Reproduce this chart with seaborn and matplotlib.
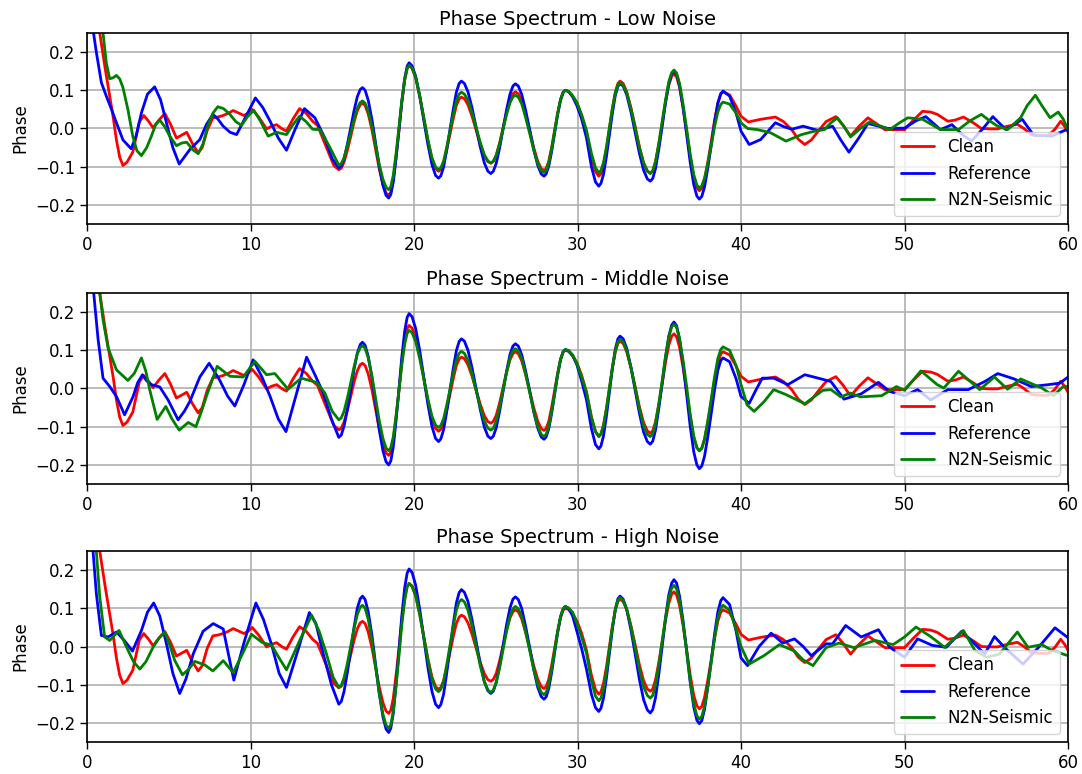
import numpy as np
import matplotlib
matplotlib.use('Agg')
import matplotlib.pyplot as plt
import seaborn as sns

sns.set_style('ticks')
plt.rcParams['font.family'] = ['DejaVu Sans']
plt.rcParams['text.color'] = 'black'
plt.rcParams['axes.labelcolor'] = 'black'
plt.rcParams['xtick.color'] = 'black'
plt.rcParams['ytick.color'] = 'black'

# ortak salinim bolgesi (15-39 Hz): tum egriler ayni x noktalarinda okundu
OSC_X = [15.4, 15.55, 15.72, 15.92, 16.13, 16.33, 16.53, 16.71,
         16.85, 17.01, 17.2, 17.43, 17.65, 17.87, 18.1, 18.29,
         18.45, 18.58, 18.73, 18.9, 19.08, 19.25, 19.43, 19.58,
         19.7, 19.88, 20.1, 20.35, 20.6, 20.85, 21.1, 21.32,
         21.5, 21.64, 21.81, 22.0, 22.2, 22.4, 22.59, 22.76,
         22.9, 23.08, 23.3, 23.55, 23.8, 24.05, 24.3, 24.52,
         24.7, 24.85, 25.03, 25.24, 25.45, 25.66, 25.87, 26.05,
         26.2, 26.38, 26.59, 26.83, 27.08, 27.32, 27.57, 27.78,
         27.95, 28.08, 28.24, 28.42, 28.6, 28.78, 28.96, 29.12,
         29.25, 29.45, 29.7, 29.96, 30.25, 30.55, 30.85, 31.1,
         31.3, 31.43, 31.59, 31.77, 31.95, 32.13, 32.31, 32.47,
         32.6, 32.79, 33.01, 33.27, 33.53, 33.78, 34.04, 34.27,
         34.45, 34.6, 34.77, 34.97, 35.18, 35.38, 35.58, 35.76,
         35.9, 36.06, 36.24, 36.46, 36.68, 36.89, 37.11, 37.3,
         37.45, 37.6, 37.77, 37.97, 38.18, 38.38, 38.58, 38.76,
         38.9]

# Clean (uc panelde de ayni)
CLEAN_HEAD_X = [0, 0.4, 0.78, 1.1, 1.39, 1.6, 1.8, 2.0, 2.2, 2.45, 2.8, 3.2, 3.47, 3.75, 4.04,
                4.4, 4.76, 5.1, 5.47, 5.8, 6.1, 6.45, 6.8, 7.05, 7.35, 7.7, 8.0, 8.33, 8.65, 8.94,
                9.3, 9.6, 9.85, 10.1, 10.5, 10.98, 11.3, 11.6, 11.9, 12.2, 12.6, 13.0, 13.4, 13.8,
                14.1, 14.6, 15.1]
CLEAN_HEAD_Y = [0.45, 0.36, 0.25, 0.16, 0.085, 0.03, -0.03, -0.075, -0.097, -0.088, -0.062, 0.017,
                0.034, 0.02, 0.002, 0.022, 0.039, 0.012, -0.025, -0.017, -0.01, -0.04, -0.064, -0.05,
                -0.005, 0.028, 0.03, 0.034, 0.04, 0.047, 0.04, 0.034, 0.04, 0.05, 0.03, -0.001, 0.006,
                0.01, 0.0, -0.007, 0.025, 0.052, 0.04, 0.019, 0.008, -0.045, -0.097]
CLEAN_OSC = [-0.108, -0.104, -0.088, -0.058, -0.021, 0.016, 0.046, 0.062,
             0.066, 0.06, 0.038, -0.004, -0.055, -0.105, -0.147, -0.169,
             -0.175, -0.167, -0.136, -0.076, -0.005, 0.066, 0.126, 0.157,
             0.165, 0.158, 0.133, 0.085, 0.027, -0.032, -0.08, -0.105,
             -0.112, -0.107, -0.09, -0.056, -0.015, 0.026, 0.06, 0.077,
             0.082, 0.078, 0.062, 0.032, -0.005, -0.041, -0.071, -0.087,
             -0.091, -0.086, -0.07, -0.037, 0.003, 0.042, 0.075, 0.091,
             0.096, 0.091, 0.072, 0.036, -0.007, -0.05, -0.086, -0.105,
             -0.11, -0.105, -0.086, -0.049, -0.005, 0.039, 0.076, 0.095,
             0.1, 0.097, 0.085, 0.067, 0.035, -0.01, -0.075, -0.113,
             -0.125, -0.119, -0.096, -0.053, 0.0, 0.052, 0.095, 0.118,
             0.124, 0.118, 0.096, 0.054, 0.004, -0.047, -0.089, -0.111,
             -0.117, -0.111, -0.087, -0.042, 0.013, 0.068, 0.113, 0.137,
             0.143, 0.135, 0.108, 0.054, -0.01, -0.074, -0.128, -0.155,
             -0.163, -0.157, -0.133, -0.088, -0.034, 0.021, 0.066, 0.09,
             0.096]
CLEAN_TAIL_X = [39.3, 39.7, 40.0, 40.45, 41.2, 42.1, 42.6, 43.1, 43.5, 43.9, 44.3, 44.7, 45.2, 45.8,
                46.25, 46.7, 47.2, 47.76, 48.3, 48.8, 49.4, 50.0, 50.5, 51.1, 51.6, 52.0, 52.65, 53.1,
                53.6, 54.2, 54.7, 55.2, 55.7, 56.3, 56.9, 57.3, 57.75, 58.3, 58.8, 59.2, 59.55, 59.8, 60.0]
CLEAN_TAIL_Y = [0.088, 0.058, 0.032, 0.017, 0.024, 0.03, 0.018, -0.003, -0.028, -0.042, -0.03, -0.008,
                0.018, 0.031, 0.008, -0.02, 0.005, 0.028, 0.012, -0.003, -0.003, -0.003, 0.02, 0.045,
                0.043, 0.037, 0.019, 0.022, 0.03, 0.015, 0.0, -0.001, -0.001, 0.006, 0.011, 0.0, -0.016,
                -0.018, -0.018, -0.002, 0.019, 0.005, -0.01]

# Low noise
REF_LOW_HEAD_X = [0, 0.4, 0.57, 0.88, 1.18, 1.5, 1.8, 2.2, 2.7, 3.0, 3.33, 3.7, 4.14, 4.5, 4.86, 5.25,
                  5.64, 5.95, 6.29, 6.9, 7.3, 7.7, 8.0, 8.33, 8.75, 9.15, 9.7, 10.3, 10.75, 11.2, 11.7,
                  12.2, 12.75, 13.3, 13.94, 14.55, 15.0]
REF_LOW_HEAD_Y = [0.45, 0.25, 0.2, 0.12, 0.085, 0.05, 0.015, -0.03, -0.053, -0.02, 0.041, 0.09, 0.109,
                  0.075, 0.015, -0.05, -0.093, -0.075, -0.055, -0.029, 0.01, 0.037, 0.025, 0.006, -0.01,
                  -0.016, 0.03, 0.08, 0.055, 0.019, -0.025, -0.057, 0.0, 0.052, 0.028, -0.025, -0.08]
REF_LOW_OSC = [-0.103, -0.098, -0.079, -0.042, 0.002, 0.046, 0.083, 0.102,
               0.107, 0.1, 0.074, 0.023, -0.038, -0.098, -0.149, -0.175,
               -0.182, -0.173, -0.141, -0.079, -0.005, 0.069, 0.131, 0.163,
               0.172, 0.164, 0.137, 0.084, 0.021, -0.042, -0.095, -0.123,
               -0.13, -0.124, -0.101, -0.056, -0.003, 0.05, 0.095, 0.118,
               0.124, 0.118, 0.096, 0.054, 0.003, -0.048, -0.09, -0.112,
               -0.118, -0.112, -0.091, -0.05, 0.0, 0.049, 0.09, 0.111,
               0.117, 0.111, 0.089, 0.047, -0.004, -0.055, -0.097, -0.119,
               -0.125, -0.119, -0.099, -0.06, -0.013, 0.035, 0.074, 0.094,
               0.1, 0.097, 0.083, 0.06, 0.025, -0.025, -0.1, -0.14,
               -0.151, -0.144, -0.12, -0.073, -0.017, 0.039, 0.086, 0.11,
               0.117, 0.111, 0.088, 0.043, -0.011, -0.064, -0.109, -0.132,
               -0.138, -0.131, -0.105, -0.055, 0.006, 0.067, 0.117, 0.143,
               0.15, 0.142, 0.112, 0.053, -0.018, -0.088, -0.147, -0.177,
               -0.185, -0.178, -0.153, -0.103, -0.044, 0.016, 0.066, 0.091,
               0.098]
REF_LOW_TAIL_X = [39.3, 39.7, 40.0, 40.5, 41.2, 42.1, 42.6, 43.1, 43.8, 44.7, 45.6, 46.1, 46.6, 47.2,
                  47.76, 49.0, 50.0, 50.7, 51.3, 52.2, 52.9, 53.5, 54.1, 54.8, 55.4, 56.2, 57.2, 57.9,
                  59.0, 59.9, 60.0]
REF_LOW_TAIL_Y = [0.085, 0.04, -0.007, -0.042, -0.029, 0.015, 0.005, -0.002, 0.006, -0.005, 0.006, -0.03,
                  -0.062, -0.025, 0.013, 0.0, 0.001, 0.02, 0.031, -0.003, 0.01, -0.015, -0.033, 0.0,
                  0.031, -0.003, 0.024, -0.018, -0.02, -0.003, 0.0]
N2N_LOW_HEAD_X = [0, 0.98, 1.18, 1.39, 1.6, 1.8, 2.0, 2.2, 2.5, 2.8, 3.05, 3.33, 3.65, 3.94, 4.2, 4.45,
                  4.75, 5.06, 5.47, 5.8, 6.1, 6.45, 6.8, 7.1, 7.4, 7.7, 8.0, 8.35, 8.74, 9.1, 9.45, 9.8,
                  10.2, 10.6, 11.08, 11.6, 12.2, 12.6, 13.0, 13.4, 13.8, 14.25, 14.8]
N2N_LOW_HEAD_Y = [0.55, 0.25, 0.172, 0.13, 0.133, 0.139, 0.13, 0.107, 0.05, -0.02, -0.058, -0.071, -0.05,
                  -0.02, 0.01, 0.022, 0.005, -0.02, -0.045, -0.038, -0.036, -0.055, -0.066, -0.04, 0.008,
                  0.04, 0.057, 0.052, 0.037, 0.018, 0.008, 0.03, 0.048, 0.02, -0.02, -0.01, -0.016, 0.01,
                  0.032, 0.018, -0.002, -0.003, -0.045]
N2N_LOW_OSC = [-0.096, -0.092, -0.077, -0.047, -0.012, 0.023, 0.053, 0.068,
               0.072, 0.066, 0.045, 0.005, -0.044, -0.093, -0.133, -0.154,
               -0.16, -0.152, -0.123, -0.066, 0.003, 0.071, 0.128, 0.157,
               0.165, 0.158, 0.134, 0.086, 0.029, -0.029, -0.077, -0.101,
               -0.108, -0.103, -0.085, -0.049, -0.007, 0.036, 0.072, 0.09,
               0.095, 0.09, 0.074, 0.041, 0.003, -0.036, -0.069, -0.085,
               -0.09, -0.086, -0.07, -0.039, -0.002, 0.036, 0.067, 0.083,
               0.087, 0.082, 0.064, 0.028, -0.014, -0.056, -0.092, -0.11,
               -0.115, -0.11, -0.09, -0.053, -0.008, 0.038, 0.075, 0.095,
               0.1, 0.097, 0.086, 0.068, 0.036, -0.005, -0.065, -0.103,
               -0.116, -0.11, -0.089, -0.048, 0.002, 0.052, 0.093, 0.114,
               0.12, 0.114, 0.093, 0.051, 0.001, -0.049, -0.091, -0.112,
               -0.118, -0.111, -0.087, -0.039, 0.018, 0.074, 0.122, 0.146,
               0.153, 0.145, 0.118, 0.063, -0.002, -0.066, -0.121, -0.148,
               -0.156, -0.15, -0.13, -0.091, -0.044, 0.004, 0.043, 0.063,
               0.069]
N2N_LOW_TAIL_X = [39.3, 39.7, 40.0, 40.4, 41.0, 41.8, 42.75, 43.7, 44.5, 45.1, 45.5, 45.9, 46.3, 46.7,
                  47.3, 47.86, 49.1, 49.7, 50.2, 51.1, 52.2, 53.3, 54.0, 54.7, 55.2, 55.7, 56.3, 57.1,
                  57.5, 58.0, 58.4, 58.9, 59.4, 59.7, 60.0]
N2N_LOW_TAIL_Y = [0.064, 0.04, 0.015, 0.0, -0.003, -0.011, -0.033, -0.016, -0.007, -0.003, 0.015, 0.028,
                  0.005, -0.022, 0.0, 0.017, -0.003, 0.015, 0.028, 0.024, -0.003, -0.003, 0.02, 0.037,
                  0.02, 0.006, -0.003, 0.028, 0.06, 0.087, 0.06, 0.028, 0.043, 0.025, -0.003]

# Middle noise
REF_MID_HEAD_X = [0, 0.41, 0.68, 0.98, 1.39, 1.8, 2.3, 2.82, 3.1, 3.39, 3.65, 3.94, 4.45, 4.96, 5.57,
                  5.95, 6.29, 6.9, 7.47, 8.1, 8.6, 9.04, 9.6, 10.16, 10.7, 11.2, 11.7, 12.17, 12.8, 13.43,
                  13.95, 14.45, 14.95]
REF_MID_HEAD_Y = [0.5, 0.25, 0.128, 0.027, 0.005, -0.021, -0.069, -0.021, 0.015, 0.036, 0.02, 0.01, 0.004,
                  -0.03, -0.082, -0.06, -0.034, 0.03, 0.066, 0.023, -0.02, -0.046, 0.01, 0.075, 0.03,
                  -0.021, -0.08, -0.113, -0.015, 0.082, 0.035, -0.012, -0.08]
REF_MID_OSC = [-0.128, -0.122, -0.099, -0.056, -0.004, 0.049, 0.092, 0.115,
               0.121, 0.113, 0.084, 0.028, -0.04, -0.107, -0.163, -0.192,
               -0.2, -0.19, -0.154, -0.085, -0.002, 0.081, 0.15, 0.186,
               0.196, 0.188, 0.157, 0.099, 0.029, -0.042, -0.1, -0.131,
               -0.139, -0.132, -0.108, -0.061, -0.005, 0.052, 0.099, 0.123,
               0.13, 0.124, 0.1, 0.054, 0.0, -0.055, -0.101, -0.125,
               -0.131, -0.125, -0.103, -0.059, -0.007, 0.045, 0.089, 0.111,
               0.117, 0.111, 0.088, 0.045, -0.008, -0.061, -0.104, -0.127,
               -0.133, -0.127, -0.106, -0.065, -0.016, 0.034, 0.075, 0.096,
               0.102, 0.099, 0.087, 0.062, 0.02, -0.03, -0.105, -0.147,
               -0.158, -0.151, -0.124, -0.072, -0.011, 0.052, 0.103, 0.13,
               0.137, 0.13, 0.105, 0.055, -0.005, -0.064, -0.114, -0.139,
               -0.146, -0.138, -0.109, -0.053, 0.014, 0.081, 0.137, 0.166,
               0.174, 0.164, 0.13, 0.063, -0.018, -0.099, -0.166, -0.2,
               -0.21, -0.203, -0.177, -0.126, -0.065, -0.004, 0.047, 0.073,
               0.08]
REF_MID_TAIL_X = [39.3, 39.7, 40.0, 40.5, 40.9, 41.3, 42.0, 42.86, 43.9, 44.9, 45.5, 45.9, 46.3, 47.35,
                  48.4, 49.1, 50.0, 50.8, 51.6, 52.65, 53.9, 54.9, 55.7, 56.7, 57.75, 58.8, 59.5, 60.0]
REF_MID_TAIL_Y = [0.07, 0.025, -0.021, -0.039, -0.005, 0.027, 0.027, 0.01, 0.036, 0.025, 0.018, -0.005,
                  -0.028, -0.014, 0.016, -0.008, -0.019, -0.003, -0.03, -0.003, -0.003, 0.018, 0.039,
                  0.025, 0.005, 0.01, 0.014, 0.03]
N2N_MID_HEAD_X = [0, 0.78, 0.98, 1.29, 1.8, 2.5, 2.9, 3.33, 3.6, 3.84, 4.29, 4.82, 5.2, 5.64, 6.19, 6.66,
                  7.0, 7.3, 7.96, 8.74, 9.55, 10.27, 10.98, 11.49, 12.3, 13.1, 14.04, 14.55, 15.0]
N2N_MID_HEAD_Y = [0.6, 0.25, 0.18, 0.106, 0.049, 0.021, 0.04, 0.08, 0.045, -0.004, -0.081, -0.047, -0.08,
                  -0.109, -0.089, -0.1, -0.06, -0.021, 0.058, 0.032, 0.03, 0.071, 0.036, 0.039, -0.002,
                  0.027, 0.016, -0.012, -0.06]
N2N_MID_OSC = [-0.082, -0.077, -0.06, -0.026, 0.015, 0.056, 0.09, 0.107,
               0.112, 0.105, 0.08, 0.032, -0.026, -0.083, -0.131, -0.156,
               -0.163, -0.155, -0.127, -0.072, -0.006, 0.061, 0.116, 0.144,
               0.152, 0.146, 0.123, 0.078, 0.025, -0.028, -0.073, -0.096,
               -0.102, -0.097, -0.079, -0.044, -0.003, 0.039, 0.074, 0.092,
               0.097, 0.092, 0.073, 0.037, -0.006, -0.049, -0.085, -0.104,
               -0.109, -0.104, -0.085, -0.047, -0.003, 0.042, 0.08, 0.099,
               0.104, 0.098, 0.078, 0.037, -0.011, -0.059, -0.1, -0.12,
               -0.126, -0.12, -0.1, -0.06, -0.012, 0.036, 0.076, 0.096,
               0.102, 0.099, 0.088, 0.066, 0.03, -0.01, -0.075, -0.113,
               -0.126, -0.12, -0.097, -0.052, 0.001, 0.054, 0.099, 0.122,
               0.128, 0.122, 0.099, 0.054, 0.001, -0.052, -0.097, -0.12,
               -0.126, -0.119, -0.092, -0.041, 0.021, 0.083, 0.134, 0.161,
               0.168, 0.16, 0.13, 0.072, 0.003, -0.067, -0.125, -0.155,
               -0.163, -0.156, -0.132, -0.084, -0.027, 0.03, 0.078, 0.102,
               0.109]
N2N_MID_TAIL_X = [39.3, 39.7, 40.0, 40.37, 40.8, 41.4, 42.0, 42.75, 43.9, 45.0, 45.5, 46.1, 46.7, 47.3,
                  48.6, 49.5, 50.0, 51.0, 52.0, 52.4, 53.3, 54.6, 55.5, 56.3, 57.1, 58.4, 59.1, 59.7, 60.0]
N2N_MID_TAIL_Y = [0.1, 0.06, 0.01, -0.043, -0.06, -0.035, -0.003, -0.016, -0.04, -0.005, -0.003, -0.022,
                  -0.012, -0.022, -0.019, 0.005, -0.005, 0.046, 0.01, 0.001, 0.045, -0.003, 0.03, -0.002,
                  0.025, 0.001, -0.019, 0.005, 0.005]

# High noise
REF_HIGH_HEAD_X = [0, 0.37, 0.57, 0.88, 1.29, 1.8, 2.3, 2.78, 3.33, 3.7, 4.08, 4.45, 4.86, 5.25, 5.67,
                   6.05, 6.5, 7.1, 7.72, 8.33, 8.65, 8.98, 9.6, 10.33, 10.8, 11.3, 11.75, 12.2, 12.9,
                   13.6, 14.0, 14.45, 14.95]
REF_HIGH_HEAD_Y = [0.5, 0.25, 0.139, 0.029, 0.025, 0.038, 0.015, -0.012, 0.042, 0.09, 0.114, 0.08, 0.007,
                   -0.07, -0.123, -0.085, -0.019, 0.04, 0.06, 0.046, -0.02, -0.088, 0.01, 0.114, 0.07,
                   0.003, -0.07, -0.107, -0.01, 0.089, 0.06, -0.019, -0.1]
REF_HIGH_OSC = [-0.151, -0.144, -0.118, -0.069, -0.01, 0.05, 0.1, 0.125,
                0.132, 0.123, 0.091, 0.029, -0.047, -0.122, -0.184, -0.216,
                -0.225, -0.214, -0.176, -0.101, -0.011, 0.079, 0.154, 0.192,
                0.203, 0.194, 0.161, 0.098, 0.022, -0.055, -0.118, -0.151,
                -0.16, -0.152, -0.125, -0.07, -0.006, 0.059, 0.114, 0.141,
                0.149, 0.142, 0.118, 0.07, 0.013, -0.044, -0.092, -0.116,
                -0.123, -0.117, -0.094, -0.05, 0.004, 0.057, 0.101, 0.124,
                0.13, 0.123, 0.099, 0.052, -0.004, -0.06, -0.107, -0.131,
                -0.138, -0.132, -0.11, -0.068, -0.017, 0.035, 0.077, 0.099,
                0.105, 0.1, 0.08, 0.04, -0.005, -0.06, -0.125, -0.16,
                -0.17, -0.162, -0.135, -0.082, -0.019, 0.044, 0.097, 0.125,
                0.132, 0.124, 0.097, 0.043, -0.021, -0.085, -0.139, -0.166,
                -0.174, -0.165, -0.134, -0.073, 0.001, 0.074, 0.135, 0.166,
                0.175, 0.166, 0.132, 0.066, -0.014, -0.093, -0.159, -0.193,
                -0.202, -0.194, -0.164, -0.106, -0.037, 0.032, 0.09, 0.12,
                0.128]
REF_HIGH_TAIL_X = [39.3, 39.7, 40.0, 40.4, 41.1, 41.84, 42.55, 43.27, 43.8, 44.3, 45.2, 45.6, 46.4, 47.35,
                   48.4, 49.1, 50.0, 50.8, 51.7, 52.55, 53.5, 54.5, 54.9, 55.5, 56.2, 57.25, 58.2, 59.2, 60.0]
REF_HIGH_TAIL_Y = [0.11, 0.04, -0.03, -0.05, 0.0, 0.035, 0.009, 0.02, 0.0, -0.024, 0.007, 0.007, 0.055,
                   0.025, 0.044, -0.002, -0.028, 0.02, 0.003, -0.002, 0.04, -0.002, -0.02, 0.026, -0.006,
                   -0.046, -0.002, 0.049, 0.023]
N2N_HIGH_HEAD_X = [0, 0.57, 0.78, 1.08, 1.39, 1.96, 2.51, 2.85, 3.23, 3.6, 4.04, 4.4, 4.76, 5.05, 5.37,
                   5.84, 6.2, 6.6, 7.2, 7.7, 8.33, 8.94, 9.5, 10.06, 10.7, 11.3, 11.75, 12.2, 13.0, 13.74,
                   14.2, 14.65, 15.05]
N2N_HIGH_HEAD_Y = [0.6, 0.25, 0.13, 0.025, 0.016, 0.042, -0.01, -0.04, -0.059, -0.04, -0.002, 0.022,
                   0.038, 0.005, -0.037, -0.074, -0.06, -0.039, -0.048, -0.064, -0.037, -0.068, -0.02,
                   0.032, 0.011, 0.003, -0.03, -0.061, 0.015, 0.082, 0.04, -0.02, -0.08]
N2N_HIGH_OSC = [-0.107, -0.102, -0.082, -0.045, 0.001, 0.046, 0.083, 0.103,
                0.108, 0.1, 0.071, 0.015, -0.053, -0.121, -0.177, -0.206,
                -0.214, -0.205, -0.17, -0.104, -0.025, 0.055, 0.121, 0.156,
                0.165, 0.158, 0.133, 0.083, 0.024, -0.036, -0.086, -0.111,
                -0.118, -0.112, -0.09, -0.048, 0.003, 0.053, 0.095, 0.117,
                0.123, 0.117, 0.095, 0.053, 0.002, -0.05, -0.092, -0.114,
                -0.12, -0.114, -0.094, -0.055, -0.008, 0.04, 0.079, 0.099,
                0.105, 0.099, 0.078, 0.038, -0.011, -0.059, -0.099, -0.12,
                -0.126, -0.12, -0.099, -0.059, -0.011, 0.038, 0.078, 0.099,
                0.105, 0.101, 0.09, 0.062, 0.025, -0.018, -0.09, -0.13,
                -0.142, -0.135, -0.111, -0.064, -0.007, 0.05, 0.097, 0.121,
                0.128, 0.121, 0.098, 0.052, -0.004, -0.059, -0.105, -0.128,
                -0.135, -0.128, -0.101, -0.049, 0.013, 0.074, 0.126, 0.153,
                0.16, 0.151, 0.12, 0.059, -0.015, -0.089, -0.15, -0.181,
                -0.19, -0.183, -0.156, -0.104, -0.041, 0.022, 0.074, 0.101,
                0.108]
N2N_HIGH_TAIL_X = [39.3, 39.7, 40.0, 40.5, 41.4, 42.35, 43.27, 43.8, 44.4, 45.2, 46.0, 46.9, 48.2, 49.3,
                   50.0, 50.7, 51.6, 52.45, 53.6, 54.3, 55.0, 55.8, 56.9, 57.55, 58.4, 59.0, 60.0]
N2N_HIGH_TAIL_Y = [0.095, 0.045, 0.0, -0.046, -0.024, 0.005, -0.012, -0.035, -0.05, -0.003, 0.009, -0.003,
                   0.016, 0.005, 0.025, 0.051, 0.026, -0.002, 0.042, -0.01, -0.028, -0.02, 0.038, -0.002,
                   0.005, -0.01, -0.024]

TITLES = ['Phase Spectrum - Low Noise', 'Phase Spectrum - Middle Noise', 'Phase Spectrum - High Noise']
LABELS = ['Clean', 'Reference', 'N2N-Seismic']
COLORS = ['red', 'blue', 'green']


def egri(head_x, head_y, osc_y, tail_x, tail_y):
    x = np.concatenate([head_x, OSC_X, tail_x])
    y = np.concatenate([head_y, osc_y, tail_y])
    return x, y


clean = egri(CLEAN_HEAD_X, CLEAN_HEAD_Y, CLEAN_OSC, CLEAN_TAIL_X, CLEAN_TAIL_Y)
paneller = [
    [clean,
     egri(REF_LOW_HEAD_X, REF_LOW_HEAD_Y, REF_LOW_OSC, REF_LOW_TAIL_X, REF_LOW_TAIL_Y),
     egri(N2N_LOW_HEAD_X, N2N_LOW_HEAD_Y, N2N_LOW_OSC, N2N_LOW_TAIL_X, N2N_LOW_TAIL_Y)],
    [clean,
     egri(REF_MID_HEAD_X, REF_MID_HEAD_Y, REF_MID_OSC, REF_MID_TAIL_X, REF_MID_TAIL_Y),
     egri(N2N_MID_HEAD_X, N2N_MID_HEAD_Y, N2N_MID_OSC, N2N_MID_TAIL_X, N2N_MID_TAIL_Y)],
    [clean,
     egri(REF_HIGH_HEAD_X, REF_HIGH_HEAD_Y, REF_HIGH_OSC, REF_HIGH_TAIL_X, REF_HIGH_TAIL_Y),
     egri(N2N_HIGH_HEAD_X, N2N_HIGH_HEAD_Y, N2N_HIGH_OSC, N2N_HIGH_TAIL_X, N2N_HIGH_TAIL_Y)],
]

fig = plt.figure(figsize=(10.82, 7.74), dpi=100)
konumlar = [(0.0804, 0.7106, 0.9067, 0.2468),
            (0.0804, 0.3747, 0.9067, 0.2468),
            (0.0804, 0.0413, 0.9067, 0.2468)]

for i, egriler in enumerate(paneller):
    ax = fig.add_axes(konumlar[i])
    for (x, y), lab, col in zip(egriler, LABELS, COLORS):
        sns.lineplot(x=x, y=y, ax=ax, color=col, lw=2, label=lab, sort=False, estimator=None)
    ax.set_xlim(0, 60)
    ax.set_ylim(-0.25, 0.25)
    ax.set_xticks([0, 10, 20, 30, 40, 50, 60])
    ax.set_yticks([-0.2, -0.1, 0.0, 0.1, 0.2])
    ax.grid(True, color='#b0b0b0', lw=1.2)
    ax.tick_params(labelsize=12, length=5, width=1)
    for s in ax.spines.values():
        s.set_color('black')
        s.set_linewidth(1.2)
    ax.set_title(TITLES[i], fontsize=14)
    ax.set_ylabel('Phase', fontsize=12)
    ax.set_xlabel('')
    ax.legend(loc='lower right', fontsize=12)

plt.savefig('out.png', dpi=100)
plt.close()
